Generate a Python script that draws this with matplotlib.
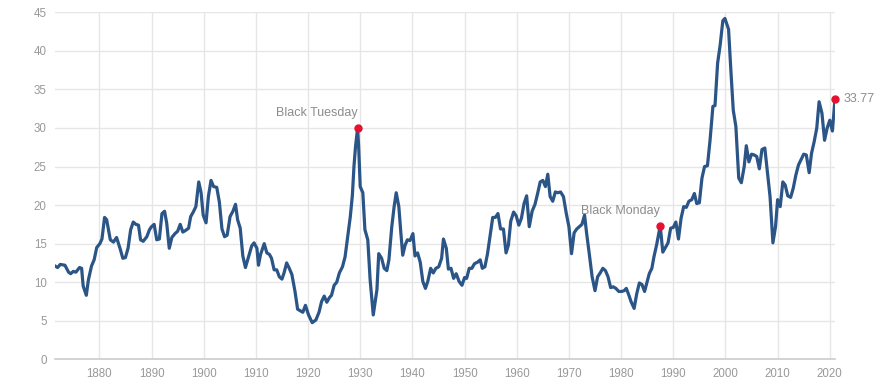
import matplotlib
matplotlib.use("Agg")
import matplotlib.pyplot as plt

# Shiller PE ratio (roughly half-year steps)
years = [
    1871.5, 1872.0, 1872.5, 1873.4, 1874.1, 1874.5, 1875.0, 1875.5, 1876.2, 1876.6,
    1876.9, 1877.5, 1877.9, 1878.5, 1879.0, 1879.5, 1880.1, 1880.5, 1881.0, 1881.4,
    1882.1, 1882.7, 1883.3, 1884.0, 1884.5, 1885.0, 1885.5, 1886.0, 1886.5, 1887.0,
    1887.5, 1887.9, 1888.4, 1889.1, 1889.6, 1890.0, 1890.5, 1891.0, 1891.5, 1892.0,
    1892.5, 1892.9, 1893.4, 1893.9, 1894.5, 1895.0, 1895.5, 1896.0, 1896.5, 1897.1,
    1897.5, 1898.0, 1898.5, 1899.05, 1899.5, 1899.9, 1900.45, 1900.9, 1901.4, 1901.9,
    1902.5, 1903.0, 1903.5, 1904.0, 1904.5, 1905.05, 1905.6, 1906.1, 1906.5, 1907.0,
    1907.5, 1908.0, 1908.6, 1909.2, 1909.65, 1910.2, 1910.5, 1910.9, 1911.6, 1912.1,
    1912.6, 1913.0, 1913.5, 1914.0, 1914.5, 1915.0, 1915.4, 1915.9, 1916.4, 1916.9,
    1917.5, 1918.0, 1918.5, 1919.0, 1919.5, 1920.1, 1920.8, 1921.5, 1922.1, 1922.6,
    1923.1, 1923.6, 1924.1, 1924.5, 1925.0, 1925.5, 1926.0, 1926.6, 1927.1, 1927.6,
    1928.1, 1928.5, 1928.8, 1929.1, 1929.5, 1929.7, 1930.0, 1930.5, 1930.9, 1931.45,
    1931.9, 1932.5, 1933.2, 1933.55, 1934.1, 1934.6, 1935.1, 1935.5, 1936.05, 1936.5,
    1936.9, 1937.4, 1937.8, 1938.15, 1938.6, 1939.05, 1939.55, 1940.1, 1940.5, 1941.0,
    1941.5, 1942.0, 1942.5, 1942.95, 1943.5, 1944.0, 1944.5, 1945.05, 1945.6, 1945.95,
    1946.5, 1946.9, 1947.4, 1947.9, 1948.4, 1948.95, 1949.5, 1950.0, 1950.4, 1950.9,
    1951.4, 1951.9, 1952.5, 1953.0, 1953.4, 1953.9, 1954.4, 1954.9, 1955.4, 1955.9,
    1956.4, 1956.9, 1957.45, 1957.95, 1958.4, 1958.85, 1959.4, 1959.9, 1960.4, 1960.9,
    1961.4, 1961.9, 1962.4, 1962.95, 1963.5, 1964.0, 1964.5, 1965.0, 1965.5, 1965.95,
    1966.4, 1966.9, 1967.4, 1967.9, 1968.4, 1968.95, 1969.5, 1970.0, 1970.5, 1971.0,
    1971.5, 1972.0, 1972.5, 1973.0, 1973.4, 1973.9, 1974.45, 1975.0, 1975.5, 1976.0,
    1976.5, 1977.0, 1977.5, 1978.0, 1978.5, 1979.0, 1979.55, 1980.1, 1980.6, 1981.0,
    1981.5, 1981.9, 1982.5, 1983.0, 1983.5, 1984.0, 1984.5, 1984.9, 1985.4, 1985.9,
    1986.3, 1986.8, 1987.5, 1988.0, 1988.5, 1989.0, 1989.5, 1990.0, 1990.5, 1991.0,
    1991.5, 1992.0, 1992.5, 1993.0, 1993.55, 1994.05, 1994.5, 1995.0, 1995.5, 1996.0,
    1996.55, 1997.05, 1997.6, 1998.0, 1998.5, 1999.0, 1999.5, 1999.9, 2000.6, 2001.0,
    2001.5, 2002.0, 2002.55, 2003.05, 2003.6, 2004.0, 2004.5, 2005.0, 2005.5, 2006.0,
    2006.5, 2007.0, 2007.55, 2008.05, 2008.55, 2009.1, 2009.6, 2010.0, 2010.5, 2011.0,
    2011.45, 2011.95, 2012.5, 2013.0, 2013.5, 2014.0, 2014.5, 2015.0, 2015.5, 2016.05,
    2016.5, 2017.0, 2017.5, 2017.95, 2018.5, 2019.0, 2019.5, 2020.0, 2020.5, 2021.0,
]
cape = [
    12.1, 11.9, 12.3, 12.2, 11.3, 11.1, 11.4, 11.3, 11.9, 11.8,
    9.5, 8.3, 10.3, 12.1, 12.9, 14.5, 15.0, 15.6, 18.4, 18.1,
    15.5, 15.2, 15.8, 14.3, 13.1, 13.2, 14.4, 16.8, 17.8, 17.5,
    17.4, 15.5, 15.3, 15.9, 16.8, 17.2, 17.5, 15.5, 15.6, 18.9,
    19.2, 17.7, 14.4, 15.8, 16.3, 16.6, 17.5, 16.5, 16.7, 17.0,
    18.5, 19.1, 19.8, 23.0, 21.6, 18.7, 17.7, 21.1, 23.2, 22.4,
    22.3, 20.4, 16.9, 15.9, 16.1, 18.5, 19.2, 20.1, 18.1, 17.0,
    13.4, 11.9, 13.3, 14.7, 15.1, 14.4, 12.2, 13.6, 15.0, 13.8,
    13.6, 13.1, 11.6, 11.6, 10.7, 10.4, 11.2, 12.5, 11.8, 11.0,
    8.8, 6.5, 6.3, 6.1, 7.0, 5.75, 4.75, 5.1, 6.1, 7.5,
    8.2, 7.4, 8.0, 8.3, 9.6, 10.0, 11.2, 12.0, 13.3, 15.9,
    18.5, 21.3, 25.0, 27.6, 29.96, 27.6, 22.4, 21.6, 16.8, 15.5,
    10.3, 5.75, 9.0, 13.7, 13.1, 11.8, 11.5, 12.9, 17.2, 19.8,
    21.6, 19.8, 16.3, 13.5, 14.8, 15.5, 15.4, 16.3, 13.4, 13.8,
    12.6, 10.1, 9.2, 10.1, 11.8, 11.2, 11.8, 12.0, 13.1, 15.6,
    14.4, 11.7, 11.8, 10.5, 11.1, 10.1, 9.6, 10.6, 10.5, 11.8,
    11.8, 12.4, 12.6, 12.9, 11.8, 12.0, 13.7, 16.1, 18.4, 18.4,
    18.9, 16.9, 16.9, 13.8, 14.8, 17.9, 19.1, 18.6, 17.4, 18.3,
    20.2, 21.2, 17.2, 19.2, 20.1, 21.5, 23.0, 23.2, 22.4, 24.0,
    21.1, 20.5, 21.7, 21.6, 21.7, 21.1, 18.9, 17.2, 13.7, 16.4,
    16.9, 17.2, 17.5, 18.7, 16.3, 13.7, 10.7, 8.9, 10.7, 11.2,
    11.8, 11.5, 10.7, 9.3, 9.4, 9.2, 8.8, 8.8, 8.9, 9.2,
    8.3, 7.5, 6.6, 8.5, 9.9, 9.7, 8.8, 9.8, 11.1, 11.8,
    13.3, 14.8, 17.3, 13.9, 14.5, 15.1, 17.0, 17.1, 17.8, 15.6,
    18.3, 19.8, 19.7, 20.5, 20.7, 21.5, 20.2, 20.3, 23.5, 25.0,
    25.1, 28.4, 32.8, 32.9, 38.4, 40.8, 43.9, 44.2, 42.8, 37.95,
    32.3, 30.2, 23.5, 22.9, 25.0, 27.7, 25.6, 26.6, 26.5, 26.3,
    24.7, 27.2, 27.4, 24.3, 21.1, 15.1, 17.2, 20.7, 19.8, 23.0,
    22.6, 21.2, 21.0, 22.2, 23.9, 25.2, 25.9, 26.6, 26.5, 24.2,
    26.7, 28.2, 29.96, 33.4, 31.9, 28.4, 30.0, 31.0, 29.6, 33.77,
]

event_names = ["Black Tuesday", "Black Monday"]
event_years = [1929.5, 1987.5]

x_ticks = list(range(1880, 2021, 10))
y_ticks = list(range(0, 46, 5))

LINE = "#2b5487"
RED = "#e8102f"
GRID = "#e6e6e6"
TXT = "#999999"

plt.rcParams["font.family"] = ["Liberation Sans", "DejaVu Sans"]

fig = plt.figure(figsize=(8.9, 3.84), dpi=100)
ax = fig.add_axes([0.0618, 0.0643, 0.8764, 0.9037])

ax.plot(years, cape, color=LINE, linewidth=2.3, solid_joinstyle="round", zorder=3)

# rote Punkte + Beschriftung für die beiden Crashs
for name, yr in zip(event_names, event_years):
    i = years.index(yr)
    ax.plot(years[i], cape[i], "o", color=RED, markersize=5, zorder=4)
    ax.annotate(name, (years[i], cape[i]), xytext=(0, 11), textcoords="offset points",
                ha="right", va="center", color="#8c8c8c", fontsize=9)

# letzter Wert
ax.plot(years[-1], cape[-1], "o", color=RED, markersize=5, zorder=4, clip_on=False)
ax.annotate(f"{cape[-1]:.2f}", (years[-1], cape[-1]), xytext=(6, 0),
            textcoords="offset points", ha="left", va="center",
            color="#8c8c8c", fontsize=9)

ax.set_xlim(1871.5, 2021.0)
ax.set_ylim(0, 45)
ax.set_xticks(x_ticks)
ax.set_yticks(y_ticks)
ax.grid(True, color=GRID, linewidth=1.0)
ax.set_axisbelow(True)

for side in ["top", "right", "left"]:
    ax.spines[side].set_visible(False)
ax.spines["bottom"].set_color("#cccccc")
ax.spines["bottom"].set_linewidth(1.2)

ax.tick_params(axis="both", length=0, colors=TXT, labelsize=8.3)
ax.tick_params(axis="y", pad=6)
ax.tick_params(axis="x", pad=6)

fig.savefig("out.png", dpi=100)
